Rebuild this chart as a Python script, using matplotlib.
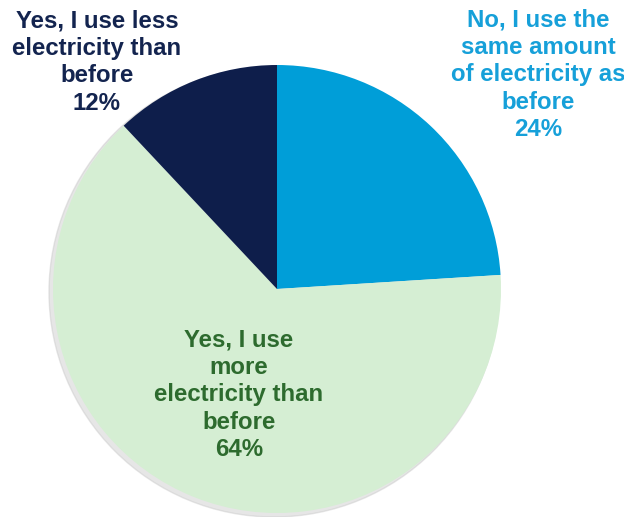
import matplotlib.pyplot as plt
from matplotlib.patches import Circle

# Datos del gráfico
labels = ["No, I use the\nsame amount\nof electricity as\nbefore",
          "Yes, I use\nmore\nelectricity than\nbefore",
          "Yes, I use less\nelectricity than\nbefore"]
shares = [24, 64, 12]
slice_colors = ["#009ED8", "#D5EED3", "#0E1E4B"]
text_colors = ["#16A0D9", "#2D6B2E", "#13244F"]

plt.rcParams['font.family'] = ['Liberation Sans', 'DejaVu Sans']

fig = plt.figure(figsize=(6.24, 5.17), dpi=100)
ax = fig.add_axes([0, 0, 1, 1])

cx, cy, r = 277, 517 - 289, 224

# sombra suave
ax.add_patch(Circle((cx - 3, cy - 3), r + 1, color="#c8c8c8", alpha=0.45, zorder=0))

ax.pie(shares, colors=slice_colors, startangle=90, counterclock=False,
       center=(cx, cy), radius=r, wedgeprops=dict(linewidth=0))

# Etiquetas
label_pos = [(538, 517 - 75), (239, 517 - 395), (97, 517 - 62)]
for lab, val, col, (x, y) in zip(labels, shares, text_colors, label_pos):
    ax.text(x, y, f"{lab}\n{val}%", ha="center", va="center", color=col,
            fontsize=17.3, fontweight="bold", linespacing=1.25)

ax.set_xlim(0, 624)
ax.set_ylim(0, 517)
ax.set_aspect('equal')
ax.axis('off')

fig.savefig("out.png", dpi=100)
